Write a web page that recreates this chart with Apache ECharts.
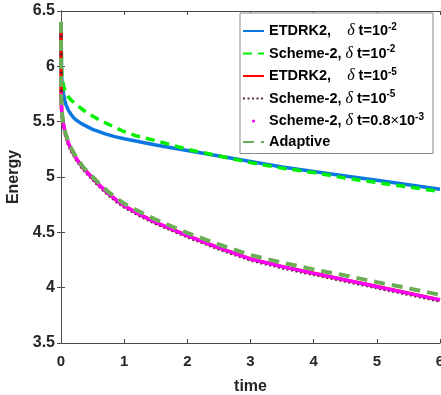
<!DOCTYPE html>
<html>
<head>
<meta charset="utf-8">
<script src="https://cdn.jsdelivr.net/npm/echarts@6/dist/echarts.min.js"></script>
<style>
html,body{margin:0;padding:0;background:#fff;width:100%;height:100%;overflow:hidden;}
#chart{width:441px;height:395px;}
</style>
</head>
<body>
<div id="chart"></div>
<script>
// ---- data ----
const xTicks = [0, 1, 2, 3, 4, 5, 6];
const yTicks = [3.5, 4, 4.5, 5, 5.5, 6, 6.5];

// ETDRK2, dt = 1e-2
const tEtdCoarse = [0, 0.01, 0.02, 0.04, 0.06, 0.08, 0.12, 0.16, 0.2, 0.25, 0.33, 0.4, 0.5, 0.6, 0.7, 0.85, 1.0, 1.22, 1.5, 2.0, 2.5, 3.0, 3.5, 4.0, 4.5, 5.0, 5.5, 6.0];
const eEtdCoarse = [6.4, 5.9, 5.83, 5.75, 5.69, 5.65, 5.60, 5.565, 5.535, 5.51, 5.48, 5.46, 5.43, 5.41, 5.39, 5.365, 5.345, 5.32, 5.29, 5.24, 5.19, 5.14, 5.09, 5.05, 5.01, 4.97, 4.93, 4.89];

// Scheme-2, dt = 1e-2
const tSchCoarse = [0, 0.01, 0.04, 0.07, 0.12, 0.18, 0.25, 0.34, 0.44, 0.56, 0.7, 0.83, 0.96, 1.2, 1.49, 2.0, 2.5, 3.0, 3.5, 4.0, 4.5, 5.0, 5.5, 6.0];
const eSchCoarse = [6.4, 5.95, 5.82, 5.77, 5.72, 5.685, 5.65, 5.61, 5.57, 5.53, 5.49, 5.455, 5.42, 5.37, 5.33, 5.25, 5.19, 5.13, 5.08, 5.04, 4.99, 4.95, 4.91, 4.87];

// ETDRK2, dt = 1e-5 (reference solution)
const tEtdFine = [0, 0.003, 0.01, 0.03, 0.07, 0.12, 0.17, 0.25, 0.35, 0.45, 0.6, 0.75, 0.9, 1.0, 1.25, 1.5, 1.75, 2.0, 2.5, 3.0, 3.5, 4.0, 4.5, 5.0, 5.5, 6.0];
const eEtdFine = [6.4, 5.75, 5.6, 5.5, 5.39, 5.30, 5.24, 5.16, 5.08, 5.02, 4.93, 4.85, 4.78, 4.74, 4.66, 4.59, 4.53, 4.47, 4.36, 4.26, 4.19, 4.13, 4.07, 4.01, 3.95, 3.89];

// Scheme-2, dt = 1e-5
const tSchFine = [0, 0.003, 0.01, 0.03, 0.07, 0.12, 0.17, 0.25, 0.35, 0.45, 0.6, 0.75, 0.9, 1.0, 1.25, 1.5, 1.75, 2.0, 2.5, 3.0, 3.5, 4.0, 4.5, 5.0, 5.5, 6.0];
const eSchFine = [6.4, 5.74, 5.59, 5.49, 5.38, 5.29, 5.23, 5.15, 5.07, 5.01, 4.92, 4.84, 4.77, 4.73, 4.65, 4.58, 4.52, 4.46, 4.35, 4.25, 4.18, 4.12, 4.06, 4.00, 3.94, 3.88];

// Scheme-2, dt = 0.8e-3
const tSchMid = [0.0008, 0.003, 0.01, 0.03, 0.07, 0.12, 0.17, 0.25, 0.35, 0.45, 0.6, 0.75, 0.9, 1.0, 1.25, 1.5, 1.75, 2.0, 2.5, 3.0, 3.5, 4.0, 4.5, 5.0, 5.5, 6.0];
const eSchMid = [5.76, 5.75, 5.6, 5.5, 5.39, 5.30, 5.24, 5.16, 5.08, 5.02, 4.93, 4.85, 4.78, 4.74, 4.66, 4.59, 4.53, 4.47, 4.36, 4.26, 4.19, 4.13, 4.07, 4.01, 3.95, 3.89];

// Adaptive
const tAdapt = [0, 0.003, 0.01, 0.03, 0.07, 0.12, 0.17, 0.25, 0.35, 0.45, 0.6, 0.75, 0.9, 1.0, 1.25, 1.5, 1.75, 2.0, 2.5, 3.0, 3.5, 4.0, 4.5, 5.0, 5.5, 6.0];
const eAdapt = [6.4, 5.76, 5.61, 5.51, 5.40, 5.31, 5.25, 5.17, 5.09, 5.03, 4.945, 4.865, 4.80, 4.76, 4.685, 4.615, 4.555, 4.495, 4.39, 4.295, 4.225, 4.165, 4.11, 4.05, 3.995, 3.935];

const seriesNames = [
  'ETDRK2, dt=1e-2',
  'Scheme-2, dt=1e-2',
  'ETDRK2, dt=1e-5',
  'Scheme-2, dt=1e-5',
  'Scheme-2, dt=0.8e-3',
  'Adaptive'
];
const legendTexts = {
  'ETDRK2, dt=1e-2': '{b|ETDRK2,}{b|    }{d|δ}{b| t=10}{s|-2}',
  'Scheme-2, dt=1e-2': '{b|Scheme-2, }{d|δ}{b| t=10}{s|-2}',
  'ETDRK2, dt=1e-5': '{b|ETDRK2,}{b|    }{d|δ}{b| t=10}{s|-5}',
  'Scheme-2, dt=1e-5': '{b|Scheme-2, }{d|δ}{b| t=10}{s|-5}',
  'Scheme-2, dt=0.8e-3': '{b|Scheme-2, }{d|δ}{b| t=0.8}{x|×}{b|10}{s|-3}',
  'Adaptive': '{b|Adaptive}'
};

const zip = (t, e) => t.map((v, i) => [v, e[i]]);

const FONT = '"Liberation Sans", Arial, Helvetica, sans-serif';
const AXC = '#4a4a4a';

const chart = echarts.init(document.getElementById('chart'), null, {renderer: 'canvas'});

const lineBase = {type: 'line', symbol: 'none', smooth: false};

const option = {
  animation: false,
  backgroundColor: '#fff',
  grid: {left: 61, right: 1, top: 11, bottom: 52, containLabel: false, outerBoundsMode: 'none'},
  xAxis: [{
    type: 'value', min: 0, max: 6, interval: 1,
    name: 'time', nameLocation: 'middle', nameGap: 36,
    nameTextStyle: {fontFamily: FONT, fontWeight: 'bold', fontSize: 16, color: '#262626'},
    axisLine: {show: true, lineStyle: {color: AXC, width: 1}},
    axisTick: {show: true, inside: true, length: 4, lineStyle: {color: AXC}},
    axisLabel: {fontFamily: FONT, fontWeight: 'bold', fontSize: 15, color: '#262626', margin: 11,
      formatter: v => (xTicks.indexOf(v) >= 0 ? String(v) : '')},
    splitLine: {show: false}
  }, {
    type: 'value', min: 0, max: 6, interval: 1, position: 'top',
    axisLine: {show: true, lineStyle: {color: AXC, width: 1}},
    axisTick: {show: true, inside: true, length: 4, lineStyle: {color: AXC}},
    axisLabel: {show: false}, splitLine: {show: false}
  }],
  yAxis: [{
    type: 'value', min: 3.5, max: 6.5, interval: 0.5,
    name: 'Energy', nameLocation: 'middle', nameGap: 32, nameRotate: 90,
    nameTextStyle: {fontFamily: FONT, fontWeight: 'bold', fontSize: 16, color: '#262626'},
    axisLine: {show: true, lineStyle: {color: AXC, width: 1}},
    axisTick: {show: true, inside: true, length: 4, lineStyle: {color: AXC}},
    axisLabel: {fontFamily: FONT, fontWeight: 'bold', fontSize: 16, color: '#262626', margin: 6,
      formatter: v => (yTicks.indexOf(v) >= 0 ? String(v) : '')},
    splitLine: {show: false}
  }, {
    type: 'value', min: 3.5, max: 6.5, interval: 0.5, position: 'right',
    axisLine: {show: true, lineStyle: {color: AXC, width: 1}},
    axisTick: {show: true, inside: true, length: 4, lineStyle: {color: AXC}},
    axisLabel: {show: false}, splitLine: {show: false}
  }],
  legend: {
    orient: 'vertical',
    left: 240, top: 13,
    padding: [9, 9, 4, 2],
    itemGap: 5.5,
    itemWidth: 21, itemHeight: 4,
    backgroundColor: '#fff',
    borderColor: '#8a8a8a', borderWidth: 1,
    data: seriesNames.map((n, i) => i === 4
      ? {name: n, lineStyle: {opacity: 0}}
      : {name: n, itemStyle: {opacity: 0}}),
    formatter: n => legendTexts[n],
    textStyle: {
      rich: {
        b: {fontFamily: FONT, fontWeight: 'bold', fontSize: 14.5, color: '#000', lineHeight: 18},
        x: {fontFamily: FONT, fontSize: 14.5, color: '#000', lineHeight: 18},
        d: {fontFamily: '"Liberation Serif", serif', fontStyle: 'italic', fontSize: 16, color: '#000', lineHeight: 18},
        s: {fontFamily: FONT, fontWeight: 'bold', fontSize: 10, color: '#000', verticalAlign: 'top', padding: [0, 0, 0, 0]}
      }
    }
  },
  series: [
    Object.assign({}, lineBase, {name: seriesNames[0], data: zip(tEtdCoarse, eEtdCoarse),
      lineStyle: {color: '#0a78e0', width: 3.5, join: 'round'}, itemStyle: {color: '#0a78e0'}, z: 2}),
    Object.assign({}, lineBase, {name: seriesNames[1], data: zip(tSchCoarse, eSchCoarse),
      lineStyle: {color: '#00f000', width: 3.5, type: [9, 6]}, itemStyle: {color: '#00f000'}, z: 3}),
    Object.assign({}, lineBase, {name: seriesNames[2], data: zip(tEtdFine, eEtdFine),
      lineStyle: {color: '#ff0000', width: 3.5, join: 'round'}, itemStyle: {color: '#ff0000'}, z: 4}),
    Object.assign({}, lineBase, {name: seriesNames[3], data: zip(tSchFine, eSchFine),
      lineStyle: {color: '#5a2740', width: 3.5, type: [2, 2.5]}, itemStyle: {color: '#5a2740'}, z: 5}),
    Object.assign({}, lineBase, {name: seriesNames[4], data: zip(tSchMid, eSchMid), symbol: 'circle', symbolSize: 3, showSymbol: false,
      lineStyle: {color: '#ff00ff', width: 3.2, join: 'round'}, itemStyle: {color: '#ff00ff'}, z: 6}),
    Object.assign({}, lineBase, {name: seriesNames[5], data: zip(tAdapt, eAdapt),
      lineStyle: {color: '#6cae57', width: 4, type: [11, 7]}, itemStyle: {color: '#6cae57'}, z: 7})
  ]
};
chart.setOption(option);
</script>
</body>
</html>
